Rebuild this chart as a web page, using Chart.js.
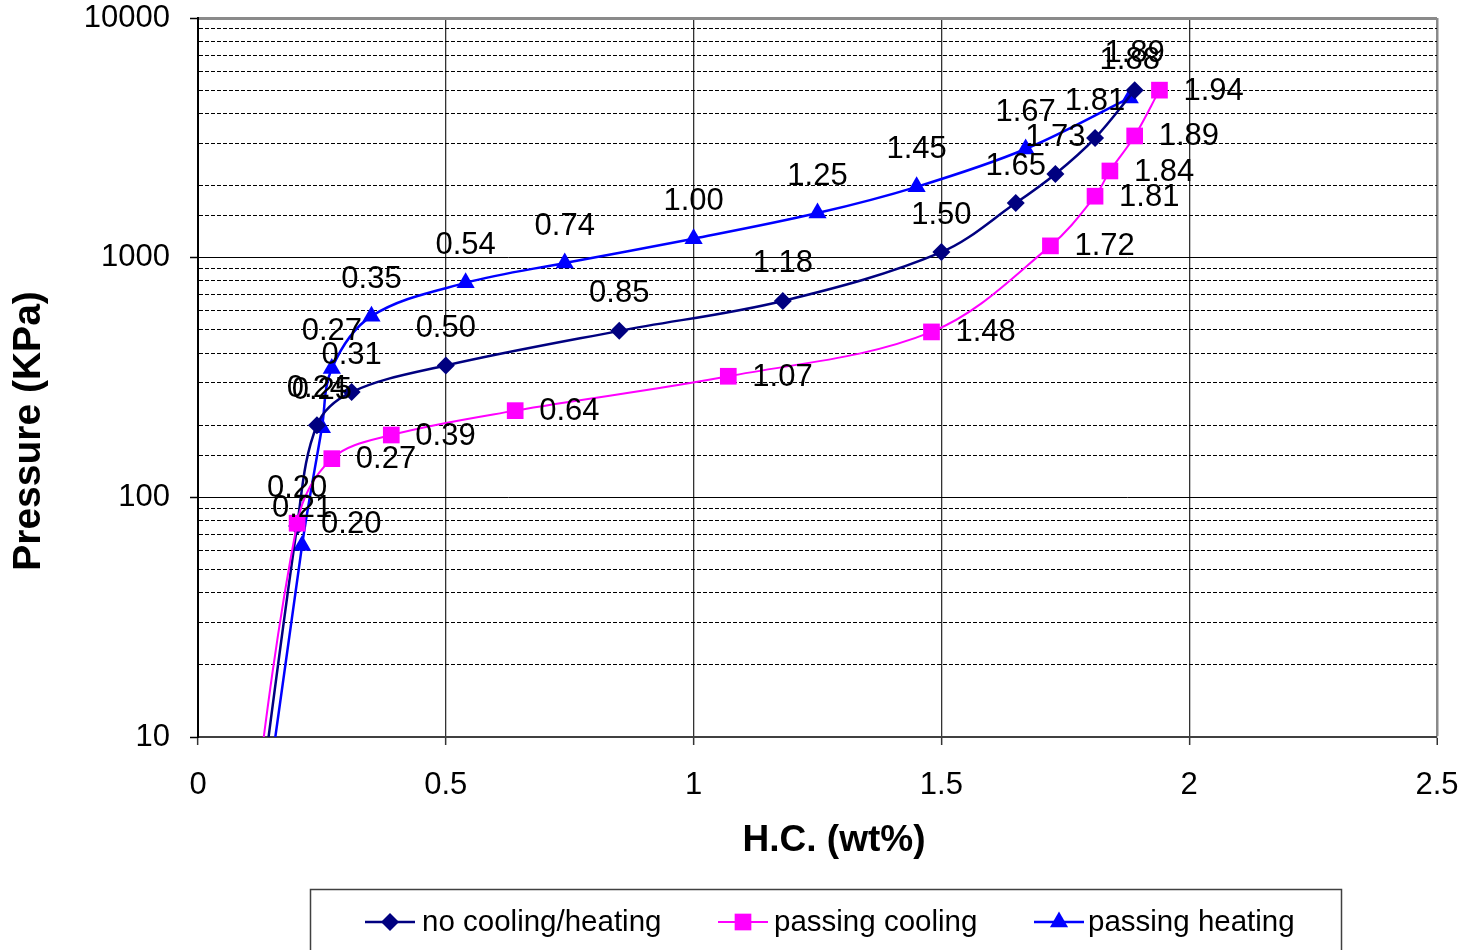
<!DOCTYPE html>
<html>
<head>
<meta charset="utf-8">
<script src="https://cdn.jsdelivr.net/npm/chart.js@4.4.1/dist/chart.umd.min.js"></script>
<style>
  html, body { margin: 0; padding: 0; background: #ffffff; }
  canvas { display: block; }
</style>
</head>
<body>
<canvas id="pct" width="1464" height="950"></canvas>
<script>
const FONT = "'Liberation Sans', Arial, Helvetica, sans-serif";

// Hydrogen content (wt%) against pressure (kPa) for the three runs
const hcNoCooling = [0.08, 0.20, 0.24, 0.31, 0.50, 0.85, 1.18, 1.50, 1.65, 1.73, 1.81, 1.89];
const pNoCooling  = [1, 76, 200, 275, 355, 495, 660, 1055, 1690, 2235, 3155, 5000];

const hcCooling = [0.07, 0.20, 0.27, 0.39, 0.64, 1.07, 1.48, 1.72, 1.81, 1.84, 1.89, 1.94];
const pCooling  = [1, 78, 145, 182, 230, 320, 490, 1120, 1805, 2300, 3220, 5000];

const hcHeating = [0.09, 0.21, 0.25, 0.27, 0.35, 0.54, 0.74, 1.00, 1.25, 1.45, 1.67, 1.88];
const pHeating  = [1, 63, 195, 345, 570, 785, 950, 1200, 1535, 1975, 2840, 4640];

const seriesNames = ['no cooling/heating', 'passing cooling', 'passing heating'];
const yTickLabels = [10, 100, 1000, 10000];
const xTickLabels = [0, 0.5, 1, 1.5, 2, 2.5];
const xAxisTitle = 'H.C. (wt%)';
const yAxisTitle = 'Pressure (KPa)';

const toPoints = (xs, ys) => xs.map((x, i) => ({ x: x, y: ys[i] }));
const isMajorY = v => yTickLabels.includes(v);

const datasets = [
  {
    label: seriesNames[0], data: toPoints(hcNoCooling, pNoCooling),
    borderColor: '#000080', backgroundColor: '#000080', borderWidth: 2.5,
    pointStyle: 'rectRot', pointRadius: 9, pointBorderWidth: 0,
    tension: 0.35, order: 1, labelPos: 'above'
  },
  {
    label: seriesNames[1], data: toPoints(hcCooling, pCooling),
    borderColor: '#ff00ff', backgroundColor: '#ff00ff', borderWidth: 2,
    pointStyle: 'rect', pointRadius: 11.8, pointBorderWidth: 0,
    tension: 0.35, order: 0, labelPos: 'right'
  },
  {
    label: seriesNames[2], data: toPoints(hcHeating, pHeating),
    borderColor: '#0000ff', backgroundColor: '#0000ff', borderWidth: 2.5,
    pointStyle: 'triangle', pointRadius: 10.5, pointBorderWidth: 0,
    tension: 0.35, order: 2, labelPos: 'above'
  }
];

// value labels next to each marker (H.C. value with two decimals)
const pointLabels = {
  id: 'pointLabels',
  afterDatasetsDraw(chart) {
    const { ctx, chartArea: a } = chart;
    ctx.save();
    ctx.font = '31px ' + FONT;
    ctx.fillStyle = '#000';
    chart.data.datasets.forEach((ds, di) => {
      const meta = chart.getDatasetMeta(di);
      meta.data.forEach((pt, i) => {
        if (pt.x < a.left - 1 || pt.x > a.right + 1 || pt.y < a.top - 1 || pt.y > a.bottom + 1) return;
        const txt = ds.data[i].x.toFixed(2);
        ctx.textBaseline = 'middle';
        if (ds.labelPos === 'right') {
          ctx.textAlign = 'left';
          ctx.fillText(txt, pt.x + 24, pt.y + 1);
        } else {
          ctx.textAlign = 'center';
          ctx.fillText(txt, pt.x, pt.y - 37);
        }
      });
    });
    ctx.restore();
  }
};

function drawMarker(ctx, style, x, y, r) {
  ctx.beginPath();
  if (style === 'rectRot') {
    ctx.moveTo(x - r, y); ctx.lineTo(x, y - r); ctx.lineTo(x + r, y); ctx.lineTo(x, y + r);
  } else if (style === 'rect') {
    const s = r * Math.SQRT1_2;
    ctx.rect(x - s, y - s, 2 * s, 2 * s);
  } else {
    const h = r * Math.sqrt(3) / 2;
    ctx.moveTo(x, y - r); ctx.lineTo(x + h, y + r / 2); ctx.lineTo(x - h, y + r / 2);
  }
  ctx.closePath();
  ctx.fill();
}

// axis titles and the boxed legend under the plot
const decorations = {
  id: 'decorations',
  afterDraw(chart) {
    const { ctx } = chart;
    ctx.save();
    ctx.fillStyle = '#000';
    ctx.font = 'bold 37px ' + FONT;
    ctx.textAlign = 'center';
    ctx.textBaseline = 'middle';
    ctx.fillText(xAxisTitle, 834, 841);

    ctx.save();
    ctx.translate(29, 431);
    ctx.rotate(-Math.PI / 2);
    ctx.font = 'bold 39px ' + FONT;
    ctx.fillText(yAxisTitle, 0, 0);
    ctx.restore();

    // legend frame
    ctx.strokeStyle = '#404040';
    ctx.lineWidth = 1.5;
    ctx.strokeRect(310.5, 889.5, 1031, 120);

    const items = [
      { ds: chart.data.datasets[0], x0: 365, tx: 422 },
      { ds: chart.data.datasets[1], x0: 718, tx: 774 },
      { ds: chart.data.datasets[2], x0: 1034, tx: 1088 }
    ];
    const ly = 922;
    ctx.font = '29.5px ' + FONT;
    ctx.textAlign = 'left';
    items.forEach(it => {
      ctx.strokeStyle = it.ds.borderColor;
      ctx.lineWidth = it.ds.borderWidth;
      ctx.beginPath();
      ctx.moveTo(it.x0, ly); ctx.lineTo(it.x0 + 50, ly);
      ctx.stroke();
      ctx.fillStyle = it.ds.backgroundColor;
      drawMarker(ctx, it.ds.pointStyle, it.x0 + 25, ly, it.ds.pointRadius);
      ctx.fillStyle = '#000';
      ctx.fillText(it.ds.label, it.tx, ly + 1);
    });
    ctx.restore();
  }
};

new Chart(document.getElementById('pct'), {
  type: 'line',
  data: { datasets: datasets },
  plugins: [pointLabels, decorations],
  options: {
    responsive: false,
    animation: false,
    layout: { padding: 0 },
    plugins: { legend: { display: false }, title: { display: false }, tooltip: { enabled: false } },
    scales: {
      x: {
        type: 'linear',
        min: 0, max: 2.5,
        afterFit: s => { s.height = 213; s.paddingLeft = 0; s.paddingRight = 27; },
        afterBuildTicks: s => { s.ticks = xTickLabels.map(v => ({ value: v })); },
        ticks: {
          autoSkip: false, maxRotation: 0, padding: 22,
          color: '#000', font: { family: FONT, size: 31 },
          callback: v => String(v)
        },
        grid: {
          color: c => (c.tick && c.tick.value === 0) ? 'rgba(0,0,0,0)'
                     : (c.tick && c.tick.value === 2.5) ? '#8a8a8a' : '#333333',
          lineWidth: c => (c.tick && c.tick.value === 2.5) ? 2.5 : 1.3,
          tickLength: 8, tickColor: '#333333', tickWidth: 1.5
        },
        border: { display: true, color: '#404040', width: 2 }
      },
      y: {
        type: 'logarithmic',
        min: 10, max: 10000,
        afterFit: s => { s.width = 198; s.paddingTop = 18; s.paddingBottom = 0; },
        ticks: {
          autoSkip: false, padding: 20,
          color: '#000', font: { family: FONT, size: 31 },
          callback: v => isMajorY(v) ? String(v) : ''
        },
        grid: {
          color: c => {
            if (!c.tick) return '#000';
            if (c.tick.value === 10) return 'rgba(0,0,0,0)';
            if (c.tick.value === 10000) return '#8a8a8a';
            return '#000';
          },
          lineWidth: c => (c.tick && c.tick.value === 10000) ? 3 : 1,
          tickLength: 8,
          tickColor: c => (c.tick && isMajorY(c.tick.value)) ? '#000' : 'rgba(0,0,0,0)',
          tickWidth: 1.5
        },
        border: {
          display: true, color: '#000', width: 2,
          dash: c => (c.tick && !isMajorY(c.tick.value)) ? [4, 2] : []
        }
      }
    }
  }
});
</script>
</body>
</html>
